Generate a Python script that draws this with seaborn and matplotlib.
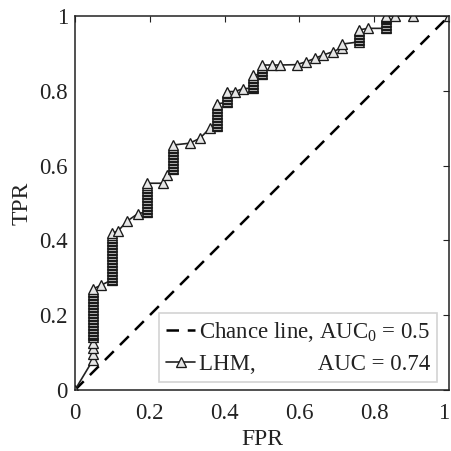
import seaborn as sns
import matplotlib.pyplot as plt
import pandas as pd

# ROC curve points (tied scores give dense vertical runs)
fpr = ([0.0]
       + [0.048] * 37
       + [0.071]
       + [0.098] * 32
       + [0.115, 0.140, 0.169]
       + [0.192] * 20
       + [0.236, 0.245]
       + [0.261] * 17
       + [0.307, 0.334, 0.361]
       + [0.379] * 16
       + [0.406] * 8
       + [0.428, 0.450, 0.476]
       + [0.477] * 9
       + [0.499] * 7
       + [0.526, 0.548, 0.593, 0.619, 0.642, 0.664, 0.691, 0.713, 0.715]
       + [0.760] * 9
       + [0.784]
       + [0.832] * 10
       + [0.856, 0.904, 1.0])
tpr = ([0.0]
       + [0.080, 0.096, 0.112, 0.126, 0.142,
          0.146, 0.150, 0.154, 0.158, 0.162, 0.166, 0.170, 0.174, 0.178,
          0.182, 0.186, 0.190, 0.194, 0.198, 0.202, 0.206, 0.210, 0.214,
          0.218, 0.222, 0.226, 0.230, 0.234, 0.238, 0.242, 0.246, 0.250,
          0.254, 0.258, 0.262, 0.266, 0.270]
       + [0.281]
       + [0.294, 0.298, 0.302, 0.306, 0.310, 0.314, 0.318, 0.322, 0.326,
          0.330, 0.334, 0.338, 0.342, 0.346, 0.350, 0.354, 0.358, 0.362,
          0.366, 0.370, 0.374, 0.378, 0.382, 0.386, 0.390, 0.394, 0.398,
          0.402, 0.406, 0.410, 0.414, 0.419]
       + [0.425, 0.452, 0.472]
       + [0.476, 0.480, 0.484, 0.488, 0.492, 0.496, 0.500, 0.504, 0.508,
          0.512, 0.516, 0.520, 0.524, 0.528, 0.532, 0.536, 0.540, 0.544,
          0.548, 0.553]
       + [0.553, 0.575]
       + [0.590, 0.594, 0.598, 0.602, 0.606, 0.610, 0.614, 0.618, 0.622,
          0.626, 0.630, 0.634, 0.638, 0.642, 0.646, 0.650, 0.655]
       + [0.660, 0.673, 0.700]
       + [0.705, 0.709, 0.713, 0.717, 0.721, 0.725, 0.729, 0.733, 0.737,
          0.741, 0.745, 0.749, 0.753, 0.757, 0.761, 0.765]
       + [0.769, 0.773, 0.777, 0.781, 0.785, 0.789, 0.794, 0.798]
       + [0.798, 0.806, 0.807]
       + [0.810, 0.814, 0.818, 0.822, 0.826, 0.830, 0.834, 0.838, 0.842]
       + [0.845, 0.849, 0.853, 0.857, 0.861, 0.865, 0.869]
       + [0.869, 0.869, 0.870, 0.878, 0.887, 0.896, 0.905, 0.915, 0.925]
       + [0.931, 0.935, 0.939, 0.943, 0.947, 0.951, 0.955, 0.959, 0.963]
       + [0.967]
       + [0.967, 0.971, 0.975, 0.979, 0.983, 0.987, 0.991, 0.995, 0.998, 1.0]
       + [1.0, 1.0, 1.0])
chance = [0.0, 1.0]
ticks = [0, 0.2, 0.4, 0.6, 0.8, 1]
tick_labels = ['0', '0.2', '0.4', '0.6', '0.8', '1']

sns.set_style('white')
plt.rcParams['font.family'] = ['Liberation Serif', 'DejaVu Serif']
plt.rcParams['mathtext.fontset'] = 'custom'
plt.rcParams['mathtext.rm'] = 'Liberation Serif'
plt.rcParams['mathtext.it'] = 'Liberation Serif:italic'

df = pd.DataFrame({'FPR': fpr, 'TPR': tpr})
df_chance = pd.DataFrame({'FPR': chance, 'TPR': chance})

fig = plt.figure(figsize=(4.51, 4.51), dpi=100)
ax = fig.add_axes([0.166, 0.135, 0.8296, 0.8295])

sns.lineplot(x='FPR', y='TPR', data=df_chance, ax=ax, color='black',
             linestyle=(0, (5, 3.5)), linewidth=1.8,
             label='Chance line, AUC$_0$ = 0.5')
sns.lineplot(x='FPR', y='TPR', data=df, ax=ax, sort=False, estimator=None,
             color='#222222', linewidth=1.2, marker='^', markersize=6.5,
             markerfacecolor='#e6e6e6', markeredgecolor='#1a1a1a',
             markeredgewidth=0.95,
             label='LHM,           AUC = 0.74')

ax.set_xlim(0, 1)
ax.set_ylim(0, 1)
ax.set_xticks(ticks)
ax.set_yticks(ticks)
ax.set_xticklabels(tick_labels)
ax.set_yticklabels(tick_labels)
ax.tick_params(direction='in', length=4, width=0.8, top=True, right=True,
               labelsize=16.5, color='#222222', labelcolor='#222222')
ax.tick_params(axis='x', pad=9)
ax.tick_params(axis='y', pad=5)
# last x label sits flush with the right edge, as in the reference
ax.get_xticklabels()[-1].set_horizontalalignment('right')
ax.set_xlabel('FPR', fontsize=17, labelpad=4, color='#222222')
ax.set_ylabel('TPR', fontsize=17, labelpad=5, color='#222222')
for s in ax.spines.values():
    s.set_color('#222222')
    s.set_linewidth(1.1)

leg = ax.legend(loc='lower right', bbox_to_anchor=(0.968, 0.021),
                fontsize=16.5, frameon=True, fancybox=False,
                edgecolor='#c8c8c8', borderaxespad=0, handlelength=1.3,
                handletextpad=0.15, borderpad=0.3, labelspacing=0.45)
leg.get_frame().set_linewidth(1.2)
for t in leg.get_texts():
    t.set_color('#222222')

fig.savefig('out.png', dpi=100)
